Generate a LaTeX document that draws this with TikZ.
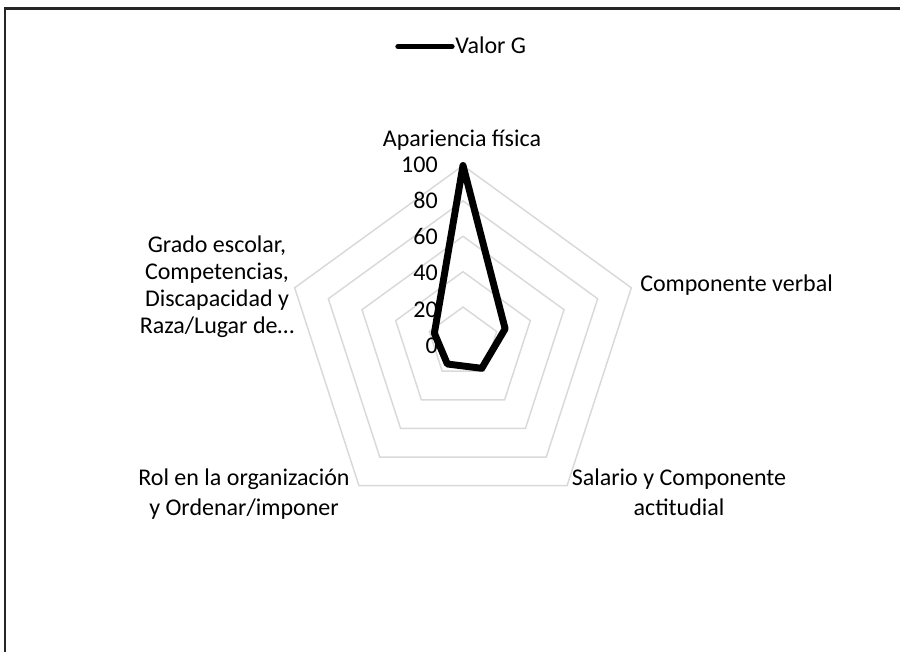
\documentclass[tikz,border=0pt]{standalone}
\usepackage{fontspec}
\setmainfont{Carlito}
\tikzset{
  gridline/.style={draw=black!15, line width=1.1pt},
  series/.style={draw=black, line width=5.2pt, line join=round},
  catlabel/.style={inner sep=0pt, align=center, font=\fontsize{18}{20.25}\selectfont},
  widelabel/.style={catlabel, font=\fontsize{18}{22.5}\selectfont},
  ticklabel/.style={inner sep=0pt, anchor=east, font=\fontsize{18}{20.25}\selectfont}
}
\begin{document}
\begin{tikzpicture}[x=0.75pt,y=-0.75pt]
\useasboundingbox (0,0) rectangle (900,652);

% chart area border
\draw[line width=1.6pt, black!85] (5,660) -- (5,8.5) -- (910,8.5);

% legend
\coordinate (keyL) at (398,46.5);
\coordinate (keyR) at (452,46.5);
\draw[line width=4pt, line cap=round] (keyL) -- (keyR);
\node[catlabel, anchor=base west] (key) at (455,54) {Valor G};

% radar grid, series and axis values
\begin{scope}[shift={(463,342.5)}, y=0.75pt]
\foreach \k in {1,...,5}{
  \pgfmathsetmacro\rr{35.4*\k}
  \draw[gridline] (90:\rr) -- (18:\rr) -- (-54:\rr) -- (-126:\rr) -- (162:\rr) -- cycle;
}
\draw[series] (90:177) -- (18:44.3) -- (-54:31.9) -- (-126:26.6) -- (162:30.1) -- cycle;
\foreach \v in {0,20,...,100}
  \node[ticklabel] (t\v) at (-25,{1.81*\v-3}) {\v};
\end{scope}

% category labels
\node[catlabel, anchor=base] (apar) at (462,147) {Apariencia física};
\node[catlabel, anchor=base west] (verbal) at (640,292) {Componente verbal};
\node[widelabel, anchor=north] (salario) at (679,468.5) {Salario y Componente\\actitudial};
\node[widelabel, anchor=north] (rol) at (244,468.5) {Rol en la organización\\y Ordenar/imponer};
\node[catlabel, anchor=north] (grado) at (217,236) {Grado escolar,\\Competencias,\\Discapacidad y\\Raza/Lugar de…};
\end{tikzpicture}
\end{document}
